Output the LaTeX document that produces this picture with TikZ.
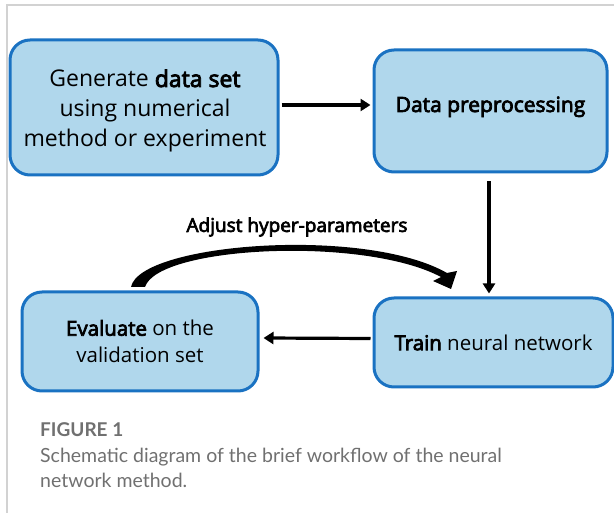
\documentclass[tikz,border=0pt]{standalone}
\usepackage{fontspec}
\setmainfont{Open Sans}[BoldFont={Open Sans}, BoldFeatures={FakeBold=3.6}]
\newfontfamily\captionfont{Lato}
\usetikzlibrary{arrows.meta,calc}
\definecolor{boxfill}{HTML}{B0D7EC}
\definecolor{boxline}{HTML}{1A72C2}
\definecolor{framegray}{HTML}{D2D2D2}
\definecolor{capgray}{HTML}{707070}
\tikzset{
  stepbox/.style={draw=boxline, fill=boxfill, line width=3pt, rounded corners=20pt,
    align=center, inner sep=0pt, font=\fontsize{20.5}{27}\selectfont},
  flow/.style={line width=3.2pt, -{Triangle[length=10pt,width=12pt]}},
  captext/.style={anchor=base west, inner sep=0pt, text=capgray,
    font=\captionfont\fontsize{19.5}{20}\selectfont},
}
\begin{document}
\begin{tikzpicture}[x=1pt, y=1pt, yscale=-1]
\useasboundingbox (0,0) rectangle (614,513);
% page frame (top and left rules)
\draw[framegray, line width=1.4pt] (7,513) -- (7,5) -- (614,5);

% process boxes
\node[stepbox, minimum width=268pt, minimum height=135pt] (gen) at (144,107.5) {};
\node[align=center, anchor=base, font=\fontsize{23}{30}\selectfont] (gentext) at (145,147)
  {Generate \textbf{data set}\\using numerical\\method or experiment};
\node[stepbox, minimum width=233pt, minimum height=122pt] (prep) at (490.5,111) {};
\node[anchor=base, font=\fontsize{21}{24}\selectfont] (preptext) at (490.5,112) {\textbf{Data preprocessing}};
\node[stepbox, minimum width=239pt, minimum height=89pt] (train) at (493.5,342.5)
  {\textbf{Train} neural network};
\node[stepbox, minimum width=236pt, minimum height=99pt] (eval) at (140,341.5)
  {\textbf{Evaluate} on the\\validation set};

% connectors
\draw[flow] (gen.east |- 0,105) ++(2,0) -- ($(prep.west |- 0,105)+(-2,0)$);
\draw[flow] ($(prep.south -| 489,0)+(0,8)$) -- ($(train.north -| 489,0)+(0,-3)$);
\draw[flow] ($(train.west)+(-2,-4)$) -- ($(eval.east)+(4,-3.5)$);

% tapered feedback arrow
\fill[black] (131,287) .. controls (140,243) and (365,226) .. (447,273)
  -- (457,271) -- (451,289) -- (433,281) -- (441,277)
  .. controls (364,236) and (158,246) .. (145,287) -- cycle;
\node[font=\fontsize{19}{20}\selectfont\bfseries] (adj) at (297,227) {Adjust hyper-parameters};

% caption
\node[captext, font=\captionfont\bfseries\fontsize{19}{20}\selectfont] (figno) at (40,437) {FIGURE 1};
\node[captext] (cap1) at (40,462) {Schematic diagram of the brief workflow of the neural};
\node[captext] (cap2) at (40,487) {network method.};
\end{tikzpicture}
\end{document}
